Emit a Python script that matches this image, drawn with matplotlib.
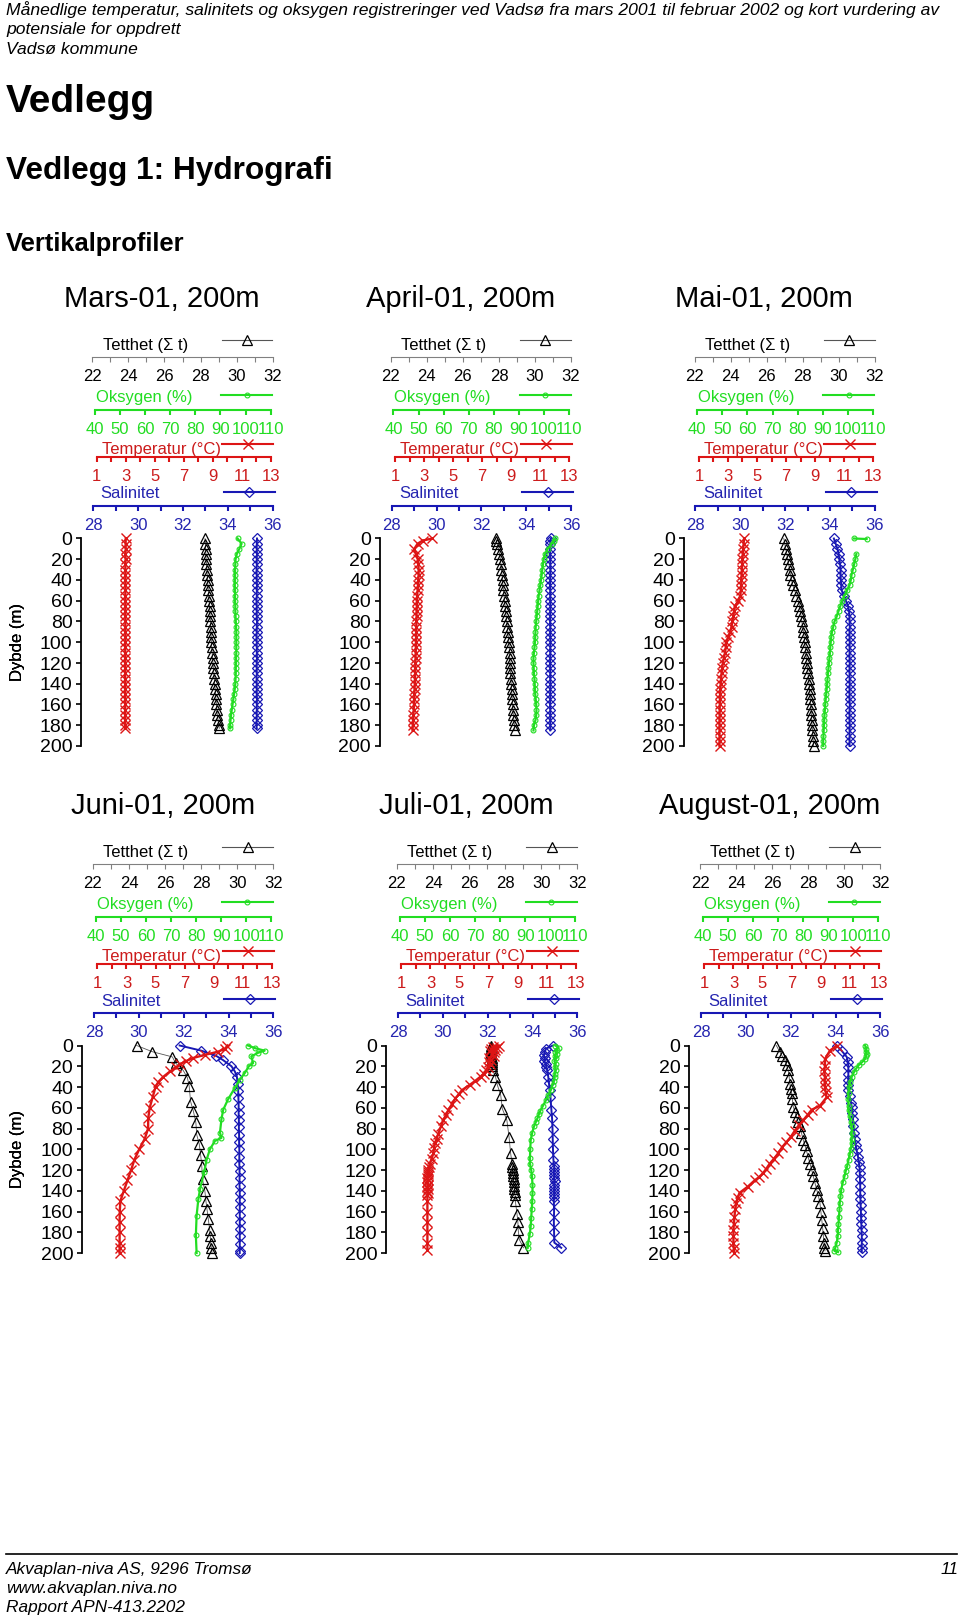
import numpy as np
import matplotlib
matplotlib.use("Agg")
import matplotlib.pyplot as plt
from matplotlib.lines import Line2D

plt.rcParams['font.family'] = ['Liberation Sans', 'DejaVu Sans']
NARROW = ['Liberation Sans Narrow', 'Liberation Sans', 'DejaVu Sans']

nan = np.nan

# ---- Mars-01 ----
MARS_DEPTH = [0, 5, 10, 15, 20, 25, 30, 35, 40, 45, 50, 55, 60, 65, 70, 75, 80, 85, 90,
              95, 100, 105, 110, 115, 120, 125, 130, 135, 140, 145, 150, 155, 160, 165,
              170, 175, 180, 183]
MARS_TEMP = [3.00, 2.99, 3.00, 2.98, 2.99, 2.98, 2.97, 2.98, 2.97, 2.98,
             2.98, 2.97, 2.97, 2.98, 2.97, 2.97, 2.98, 2.97, 2.97, 2.98,
             2.97, 2.96, 2.97, 2.97, 2.96, 2.97, 2.96, 2.96, 2.97, 2.96,
             2.96, 2.96, 2.97, 2.96, 2.96, 2.96, 2.96, 2.96]
MARS_DENS = [28.25, 28.27, 28.28, 28.30, 28.31, 28.33, 28.35, 28.37, 28.39, 28.41,
             28.43, 28.45, 28.47, 28.50, 28.52, 28.53, 28.55, 28.56, 28.58, 28.59,
             28.60, 28.62, 28.64, 28.67, 28.69, 28.71, 28.74, 28.76, 28.78, 28.81,
             28.83, 28.86, 28.88, 28.90, 28.93, 28.97, 29.02, 29.04]
MARS_OXY = [96.8, 98.4, 97.5, 96.5, 96.0, 95.9, 95.8, 95.8, 95.8, 95.7,
            95.8, 95.8, 95.8, 95.9, 95.9, 96.0, 96.1, 96.2, 96.3, 96.3,
            96.3, 96.3, 96.3, 96.2, 96.2, 96.1, 96.1, 96.0, 95.9, 95.7,
            95.4, 95.1, 94.8, 94.5, 94.2, 94.0, 93.8, 93.8]
MARS_SAL = [35.30, 35.29, 35.29, 35.30, 35.29, 35.29, 35.28, 35.29, 35.29, 35.30,
            35.29, 35.29, 35.28, 35.29, 35.29, 35.29, 35.30, 35.29, 35.29, 35.28,
            35.29, 35.29, 35.29, 35.30, 35.29, 35.29, 35.29, 35.28, 35.29, 35.29,
            35.29, 35.30, 35.29, 35.29, 35.29, 35.29, 35.28, 35.29]

# ---- April-01 ----
APR_DEPTH = [0, 2, 5, 10, 15, 20, 25, 30, 35, 40, 45, 50, 55, 60, 65, 70, 75, 80, 85,
             90, 95, 100, 105, 110, 115, 120, 125, 130, 135, 140, 145, 150, 155, 160,
             165, 170, 175, 180, 185]
APR_TEMP = [3.55, 2.90, 2.55, 2.32, 2.45, 2.56, 2.60, 2.62, 2.62, 2.60,
            2.58, 2.55, 2.52, 2.50, 2.50, 2.48, 2.48, 2.47, 2.46, 2.45,
            2.45, 2.44, 2.43, 2.42, 2.41, 2.40, 2.39, 2.38, 2.37, 2.36,
            2.34, 2.33, 2.31, 2.30, 2.28, 2.26, 2.24, 2.22, 2.20]
APR_DENS = [27.81, 27.85, 27.90, 27.97, 28.03, 28.08, 28.11, 28.14, 28.17, 28.20,
            28.22, 28.25, 28.28, 28.31, 28.34, 28.37, 28.40, 28.43, 28.46, 28.49,
            28.52, 28.55, 28.57, 28.59, 28.60, 28.62, 28.63, 28.64, 28.66, 28.68,
            28.70, 28.72, 28.74, 28.76, 28.77, 28.80, 28.83, 28.86, 28.88]
APR_OXY = [104.5, 104.0, 103.1, 101.5, 100.4, 99.9, 99.6, 99.3, 99.1, 98.8,
           98.5, 98.2, 97.9, 97.7, 97.5, 97.3, 97.1, 96.9, 96.7, 96.6,
           96.5, 96.4, 96.2, 96.0, 95.8, 95.8, 95.9, 96.0, 96.2, 96.3,
           96.4, 96.5, 96.7, 96.9, 97.0, 96.9, 96.6, 96.0, 95.8]
APR_SAL = [35.10, 35.08, 35.07, 35.07, 35.06, 35.07, 35.07, 35.08, 35.07, 35.07,
           35.06, 35.07, 35.07, 35.07, 35.08, 35.07, 35.07, 35.06, 35.07, 35.07,
           35.07, 35.08, 35.07, 35.07, 35.07, 35.06, 35.07, 35.07, 35.07, 35.08,
           35.07, 35.07, 35.07, 35.06, 35.07, 35.07, 35.07, 35.07, 35.07]

# ---- Mai-01 ----
MAI_DEPTH = [0, 5, 10, 15, 20, 25, 30, 35, 40, 45, 50, 55, 60, 65, 70, 75, 80, 85, 90,
             95, 100, 105, 110, 115, 120, 125, 130, 135, 140, 145, 150, 155, 160, 165,
             170, 175, 180, 185, 190, 195, 200]
MAI_TEMP = [4.11, 4.08, 4.05, 4.02, 4.00, 3.98, 3.96, 3.94, 3.93, 3.91,
            3.89, 3.85, 3.70, 3.50, 3.42, 3.37, 3.30, 3.25, 3.15, 3.02,
            2.90, 2.85, 2.80, 2.72, 2.65, 2.60, 2.56, 2.53, 2.50, 2.48,
            2.46, 2.45, 2.44, 2.43, 2.43, 2.42, 2.42, 2.42, 2.42, 2.42, 2.42]
MAI_DENS = [26.95, 27.00, 27.06, 27.12, 27.17, 27.22, 27.27, 27.32, 27.38, 27.45,
            27.55, 27.65, 27.76, 27.82, 27.87, 27.91, 27.95, 27.99, 28.04, 28.08,
            28.11, 28.14, 28.17, 28.20, 28.23, 28.26, 28.29, 28.32, 28.35, 28.38,
            28.40, 28.42, 28.44, 28.46, 28.48, 28.50, 28.52, 28.54, 28.56, 28.58, 28.60]
MAI_OXY_DEPTH = [0, 0.5, 10, 15, 20, 25, 30, 35, 40, 45, 50, 55, 60, 65, 70, 75, 80, 85,
                 90, 95, 100, 105, 110, 115, 120, 125, 130, 135, 140, 145, 150, 155,
                 160, 165, 170, 175, 180, 185, 190, 195, 200]
MAI_OXY = [102.5, 107.5, nan, 103.4, 103.0, 102.5, 102.0, 101.5, 101.2, 100.7,
           99.7, 98.7, 97.8, 97.0, 96.3, 95.6, 94.7, 94.2, 93.7, 93.4,
           93.2, 93.0, 92.9, 92.7, 92.5, 92.3, 92.1, 91.9, 91.8, 91.6,
           91.4, 91.2, 91.0, 90.9, 90.7, 90.6, 90.5, 90.4, 90.3, 90.2, 90.2]
MAI_SAL = [34.17, 34.25, 34.33, 34.38, 34.42, 34.45, 34.47, 34.47, 34.48, 34.50,
           34.52, 34.60, 34.70, 34.80, 34.85, 34.87, 34.87, 34.88, 34.87, 34.87,
           34.88, 34.87, 34.87, 34.87, 34.88, 34.87, 34.87, 34.87, 34.88, 34.87,
           34.87, 34.87, 34.88, 34.87, 34.87, 34.87, 34.88, 34.87, 34.87, 34.87, 34.87]

# ---- Juni-01 ----
JUN_TEMP_DEPTH = [0, 3, 6, 9, 12, 15, 18, 21, 25, 30, 35, 40, 50, 60, 70, 80, 90, 100,
                  110, 120, 130, 140, 150, 160, 170, 180, 190, 195, 200]
JUN_TEMP = [9.95, 9.80, 9.30, 8.40, 7.60, 7.10, 6.70, 6.40, 6.00, 5.55,
            5.20, 5.00, 4.80, 4.60, 4.50, 4.49, 4.26, 3.88, 3.55, 3.32,
            3.07, 2.82, 2.58, 2.54, 2.53, 2.53, 2.53, 2.53, 2.53]
JUN_DENS_DEPTH = [0, 6, 11, 17, 24, 31, 39, 54, 63, 74, 86, 95, 106, 116, 129, 140, 150,
                  158, 167, 178, 184, 190, 195, 200]
JUN_DENS = [24.42, 25.29, 26.40, 26.58, 27.00, 27.23, 27.33, 27.41, 27.56, 27.70,
            27.75, 27.89, 27.97, 28.03, 28.07, 28.20, 28.26, 28.32, 28.39, 28.47,
            28.50, 28.52, 28.56, 28.60]
JUN_OXY_DEPTH = [0, 2.5, 5, 7, 10.5, 17, 20, 26.5, 33, 41, 52, 62, 71, 84, 89, 92, 100,
                 110, 122, 138, 148, 164, 183, 200]
JUN_OXY = [100.7, 103.4, 107.3, 104.7, 102.0, 102.7, 101.0, 99.4, 97.4, 95.4,
           92.7, 90.8, 90.1, 89.5, 90.1, 87.5, 85.5, 84.2, 83.2, 81.6,
           80.9, 80.2, 79.9, 80.2]
JUN_SAL_DEPTH = [0, 5, 10, 14, 20, 25, 30, 37, 44, 51, 58, 65, 72, 79, 86, 93, 100, 107,
                 114, 121, 128, 135, 142, 149, 156, 163, 170, 177, 184, 191, 198, 200]
JUN_SAL = [31.82, 32.79, 33.45, 33.75, 34.13, 34.28, 34.37, 34.41, 34.43, 34.44,
           34.45, 34.45, 34.46, 34.46, 34.47, 34.47, 34.48, 34.48, 34.48, 34.49,
           34.49, 34.49, 34.50, 34.50, 34.50, 34.50, 34.50, 34.50, 34.50, 34.50,
           34.50, 34.50]

# ---- Juli-01 ----
JUL_TEMP_DEPTH = [0, 1, 2, 3, 4, 5, 6, 8, 10, 12, 14, 16, 18, 21, 24, 27, 30, 34, 38, 43,
                  47, 51, 56, 62, 67, 72, 78, 85, 90, 94, 99, 104, 109, 114, 117, 120,
                  122, 124, 126, 128, 130, 132, 134, 136, 138, 140, 142, 144, 150, 160,
                  170, 180, 190, 197]
JUL_TEMP = [7.70, 7.30, 7.55, 7.20, 7.45, 7.10, 7.40, 7.25, 7.35, 7.05,
            7.20, 7.00, 7.10, 6.95, 6.85, 6.68, 6.45, 6.09, 5.70, 5.17,
            4.95, 4.71, 4.50, 4.24, 4.06, 3.89, 3.72, 3.54, 3.42, 3.31,
            3.25, 3.20, 3.08, 2.96, 2.90, 2.85, 2.82, 2.80, 2.82, 2.79,
            2.80, 2.78, 2.80, 2.79, 2.80, 2.78, 2.80, 2.79, 2.79, 2.79,
            2.79, 2.79, 2.79, 2.79]
JUL_DENS_DEPTH = [0, 2, 4, 6, 8, 10, 12, 14, 16, 18, 20, 24, 30, 38, 48, 61, 72, 88, 104,
                  114, 117, 120, 123, 126, 129, 132, 135, 138, 141, 144, 150, 162, 170,
                  178, 187, 195]
JUL_DENS = [27.19, 27.20, 27.20, 27.22, 27.22, 27.23, 27.24, 27.25, 27.26, 27.27,
            27.28, 27.30, 27.46, 27.56, 27.75, 27.84, 28.09, 28.21, 28.30, 28.38,
            28.40, 28.42, 28.44, 28.45, 28.46, 28.48, 28.50, 28.51, 28.53, 28.55,
            28.56, 28.65, 28.70, 28.72, 28.78, 29.01]
JUL_OXY_DEPTH = [0, 2, 4, 6, 8, 10, 12, 15, 18, 21, 24, 27, 30, 34, 38, 43, 48, 53, 58,
                 63, 66, 70, 74, 78, 84, 91, 100, 108, 114, 120, 126, 134, 142, 150, 158,
                 166, 174, 182, 190, 195]
JUL_OXY = [102.0, 103.3, 102.8, 102.0, 102.5, 101.8, 102.3, 101.6, 102.1, 101.9,
           102.2, 101.8, 101.7, 101.5, 100.9, 100.2, 99.2, 98.2, 97.1, 96.0,
           95.5, 94.9, 94.2, 93.5, 92.8, 92.2, 92.0, 91.9, 91.9, 92.4,
           92.7, 92.9, 92.9, 92.8, 92.6, 92.4, 92.2, 91.8, 91.2, 91.0]
JUL_SAL_DEPTH = [0, 3, 6, 9, 12, 15, 18, 21, 24, 30, 36, 43, 50, 62, 70, 80, 90, 100,
                 110, 116, 119, 122, 125, 128, 131, 134, 137, 140, 143, 146, 150, 160,
                 170, 180, 190, 195]
JUL_SAL = [34.91, 34.60, 34.55, 34.50, 34.55, 34.52, 34.60, 34.62, 34.65,
           34.70, 34.73, 34.76, 34.80, 34.84, 34.87, 34.89, 34.90, 34.91, 34.93,
           34.96, 34.97, 34.95, 34.97, 34.96, 34.98, 34.96, 34.97, 34.96, 34.97, 34.96,
           34.95, 34.96, 34.95, 34.96, 34.97, 35.28]

# ---- August-01 ----
AUG_TEMP_DEPTH = [0, 5, 13, 20, 25, 30, 35, 40, 45, 50, 58, 62, 67, 72, 77, 82, 88, 93,
                  98, 104, 109, 114, 119, 123, 127, 130, 136, 142, 147, 152, 158, 165,
                  172, 178, 184, 190, 195, 200]
AUG_TEMP = [10.10, 9.64, 9.30, 9.30, 9.25, 9.30, 9.28, 9.30, 9.35, 9.41,
            8.96, 8.38, 8.10, 7.80, 7.50, 7.23, 6.95, 6.65, 6.35, 6.07,
            5.80, 5.49, 5.25, 5.04, 4.75, 4.46, 3.99, 3.42, 3.28, 3.19,
            3.12, 3.07, 3.03, 3.00, 3.00, 3.00, 3.02, 3.05]
AUG_DENS_DEPTH = [0, 6, 10, 14, 19, 24, 30, 37, 42, 46, 52, 59, 64, 69, 74, 78, 84, 91,
                  96, 102, 108, 114, 120, 126, 133, 139, 145, 152, 160, 168, 176, 184,
                  190, 195, 198]
AUG_DENS = [26.23, 26.42, 26.55, 26.70, 26.80, 26.89, 26.94, 26.98, 27.03, 27.08,
            27.12, 27.17, 27.26, 27.35, 27.45, 27.54, 27.62, 27.72, 27.82, 27.91,
            28.00, 28.10, 28.19, 28.28, 28.38, 28.47, 28.56, 28.65, 28.70, 28.75,
            28.80, 28.84, 28.87, 28.90, 28.93]
AUG_OXY_DEPTH = [0, 3, 6, 8, 10, 13, 16, 19, 22, 26, 30, 35, 40, 46, 52, 58, 62, 68, 74,
                 78, 84, 90, 94, 100, 105, 110, 116, 121, 126, 132, 139, 145, 152, 158,
                 165, 172, 178, 184, 190, 195, 198, 199]
AUG_OXY = [104.7, 105.2, 105.0, 105.4, 105.0, 104.7, 103.5, 102.1, 101.2, 100.2,
           99.4, 98.8, 98.4, 98.1, 98.0, 98.1, 98.1, 98.5, 99.0, 99.4,
           99.4, 99.4, 99.4, 99.0, 98.6, 98.1, 97.6, 97.0, 96.5, 95.8,
           95.2, 94.9, 94.6, 94.5, 94.3, 94.1, 93.9, 93.8, 93.4, 92.8, 92.5, 93.9]
AUG_SAL_DEPTH = [0, 5, 11, 16, 21, 27, 33, 38, 43, 49, 55, 59, 65, 71, 78, 84, 90, 96,
                 101, 107, 112, 117, 123, 129, 135, 142, 148, 154, 160, 166, 172, 178,
                 184, 190, 195, 199]
AUG_SAL = [34.05, 34.27, 34.50, 34.55, 34.57, 34.57, 34.57, 34.57, 34.57, 34.63,
           34.69, 34.72, 34.75, 34.78, 34.80, 34.83, 34.86, 34.90, 34.94, 35.00,
           35.04, 35.07, 35.08, 35.09, 35.10, 35.10, 35.11, 35.12, 35.13, 35.14,
           35.15, 35.16, 35.17, 35.17, 35.17, 35.17]

TITLES = ["Mars-01, 200m", "April-01, 200m", "Mai-01, 200m",
          "Juni-01, 200m", "Juli-01, 200m", "August-01, 200m"]

PANELS = [
    dict(dens=(MARS_DEPTH, MARS_DENS), sal=(MARS_DEPTH, MARS_SAL),
         oxy=(MARS_DEPTH, MARS_OXY), temp=(MARS_DEPTH, MARS_TEMP)),
    dict(dens=(APR_DEPTH, APR_DENS), sal=(APR_DEPTH, APR_SAL),
         oxy=(APR_DEPTH, APR_OXY), temp=(APR_DEPTH, APR_TEMP)),
    dict(dens=(MAI_DEPTH, MAI_DENS), sal=(MAI_DEPTH, MAI_SAL),
         oxy=(MAI_OXY_DEPTH, MAI_OXY), temp=(MAI_DEPTH, MAI_TEMP)),
    dict(dens=(JUN_DENS_DEPTH, JUN_DENS), sal=(JUN_SAL_DEPTH, JUN_SAL),
         oxy=(JUN_OXY_DEPTH, JUN_OXY), temp=(JUN_TEMP_DEPTH, JUN_TEMP)),
    dict(dens=(JUL_DENS_DEPTH, JUL_DENS), sal=(JUL_SAL_DEPTH, JUL_SAL),
         oxy=(JUL_OXY_DEPTH, JUL_OXY), temp=(JUL_TEMP_DEPTH, JUL_TEMP)),
    dict(dens=(AUG_DENS_DEPTH, AUG_DENS), sal=(AUG_SAL_DEPTH, AUG_SAL),
         oxy=(AUG_OXY_DEPTH, AUG_OXY), temp=(AUG_TEMP_DEPTH, AUG_TEMP)),
]

# ---- page geometry (pixels) ----
W, H = 960, 1617
X28 = [[93.3, 391.7, 695.5], [94.0, 398.0, 701.0]]   # pixel of salinity 28 tick
ROW_SHIFT = 507
DEPTH0_Y = 538.5
PX_PER_M = 207.5 / 200

RED, GREEN, BLUE, GREY = '#dd1515', '#22dd22', '#1818b4', '#808080'

SCALES = {
    'dens': dict(lo=22, hi=32, plo=-1.0, phi=179.4, y=357,
                 major=[22, 24, 26, 28, 30, 32], minor=[23, 25, 27, 29, 31],
                 tc='black', ac=GREY, alw=0.8, label='Tetthet (\u03a3 t)', ldx=9.4, lup=11.5,
                 kdx=153.7, kup=16,
                 style=dict(color='#555555', lw=0.6, marker='^', ms=6.5, mfc='none',
                            mec='black', mew=0.9)),
    'oxy': dict(lo=40, hi=110, plo=1.7, phi=177.4, y=410,
                major=[40, 50, 60, 70, 80, 90, 100, 110], minor=[],
                tc=GREEN, ac=GREEN, alw=1.5, label='Oksygen (%)', ldx=2.7, lup=12.3,
                kdx=153.4, kup=14,
                style=dict(color=GREEN, lw=1.6, marker='o', ms=3.5, mfc='none',
                           mec=GREEN, mew=0.8)),
    'temp': dict(lo=1, hi=13, plo=3.4, phi=177.7, y=457,
                 major=[1, 3, 5, 7, 9, 11, 13], minor=[2, 4, 6, 8, 10, 12],
                 tc='#cc1b1b', ac=RED, alw=1.5, label='Temperatur (\u00b0C)', ldx=8.4, lup=7.5,
                 kdx=154.4, kup=12,
                 style=dict(color=RED, lw=1.7, marker='x', ms=7, mew=1.0)),
    'sal': dict(lo=28, hi=36, plo=0.0, phi=179.4, y=506,
                major=[28, 30, 32, 34, 36], minor=[29, 31, 33, 35],
                tc='#2525b0', ac=BLUE, alw=1.5, label='Salinitet', ldx=7.4, lup=12.0,
                kdx=155.8, kup=13,
                style=dict(color=BLUE, lw=1.4, marker='D', ms=5, mfc='none',
                           mec=BLUE, mew=0.9)),
}
ORDER = ['dens', 'sal', 'oxy', 'temp']
LEFT_PAD, RIGHT_END = 12, 195

fig = plt.figure(figsize=(W / 100, H / 100), dpi=100)


def fx(px):
    return px / W


def fy(py):
    return 1 - py / H


for i, series in enumerate(PANELS):
    row, col = divmod(i, 3)
    x28 = X28[row][col]
    dy = ROW_SHIFT * row
    xl, xr = x28 - LEFT_PAD, x28 + RIGHT_END
    y0 = DEPTH0_Y + dy
    ytop, ybot = y0 - 12, y0 + 200 * PX_PER_M + 12

    ax = fig.add_axes([fx(xl), fy(ybot), (xr - xl) / W, (ybot - ytop) / H])
    m = 12 / PX_PER_M
    ax.set_ylim(200 + m, -m)
    ax.set_xticks([])
    for s in ['top', 'right', 'bottom']:
        ax.spines[s].set_visible(False)
    ax.spines['left'].set_bounds(0, 200)
    ax.spines['left'].set_linewidth(1.3)
    ax.set_yticks(range(0, 201, 20))
    ax.tick_params(axis='y', length=3.8, width=1.2, labelsize=14, pad=2.5)
    ax.set_ylabel('Dybde (m)', fontsize=12)
    ax.yaxis.set_label_coords(-(xl - 25) / (xr - xl), 0.5)
    ax.patch.set_visible(False)

    fig.text(fx(x28 + 68.7), fy(299 + dy), TITLES[i], fontsize=21,
             ha='center', va='center')

    for key in ORDER:
        sc = SCALES[key]
        k = (sc['hi'] - sc['lo']) / (sc['phi'] - sc['plo'])
        xlim = (sc['lo'] - (sc['plo'] + LEFT_PAD) * k,
                sc['hi'] + (RIGHT_END - sc['phi']) * k)

        vax = ax.twiny()
        vax.set_xlim(xlim)
        vax.axis('off')
        d, v = series[key]
        vax.plot(v, d, clip_on=False, **sc['style'])

        yline = sc['y'] + dy
        sax = fig.add_axes([fx(xl), fy(yline), (xr - xl) / W, 30 / H])
        sax.set_xlim(xlim)
        sax.set_ylim(0, 1)
        sax.patch.set_visible(False)
        for s in ['top', 'left', 'right']:
            sax.spines[s].set_visible(False)
        sax.spines['bottom'].set_bounds(sc['lo'], sc['hi'])
        sax.spines['bottom'].set_color(sc['ac'])
        sax.spines['bottom'].set_linewidth(sc['alw'])
        sax.set_yticks([])
        sax.set_xticks(sc['major'])
        sax.set_xticklabels([str(t) for t in sc['major']])
        sax.set_xticks(sc['minor'], minor=True)
        sax.tick_params(axis='x', which='both', direction='out', length=3.3,
                        width=sc['alw'], color=sc['ac'], labelcolor=sc['tc'],
                        labelsize=12, pad=5.3)

        fig.text(fx(x28 + sc['ldx']), fy(yline - sc['lup']), sc['label'],
                 fontsize=12, color=sc['tc'], ha='left', va='center')

        st = dict(sc['style'])
        st['lw'] = sc['alw'] if key != 'dens' else 0.8
        handle = Line2D([], [], **st)
        sax.legend([handle], [''], loc='center', frameon=False,
                   bbox_to_anchor=(fx(x28 + sc['kdx']), fy(yline - sc['kup'])),
                   bbox_transform=fig.transFigure, handlelength=51 / 13.89,
                   handletextpad=0, borderpad=0, borderaxespad=0, fontsize=10,
                   numpoints=1)

# ---- page text ----
fig.text(fx(6), fy(9.5), 'Månedlige temperatur, salinitets og oksygen registreringer ved '
         'Vadsø fra mars 2001 til februar 2002 og kort vurdering av',
         family=NARROW, style='italic', fontsize=12.6, va='center')
fig.text(fx(6), fy(29.5), 'potensiale for oppdrett', family=NARROW, style='italic',
         fontsize=12.6, va='center')
fig.text(fx(6), fy(49), 'Vadsø kommune', family=NARROW, style='italic',
         fontsize=12.6, va='center')
fig.text(fx(6), fy(102), 'Vedlegg', family=NARROW, weight='bold', fontsize=28,
         va='center')
fig.text(fx(6), fy(171), 'Vedlegg 1: Hydrografi', family=NARROW, weight='bold',
         fontsize=22.8, va='center')
fig.text(fx(6), fy(244), 'Vertikalprofiler', family=NARROW, weight='bold',
         fontsize=18.4, va='center')

fig.add_artist(Line2D([fx(6), fx(957)], [fy(1554), fy(1554)],
                      transform=fig.transFigure, color='black', lw=1.2))
for txt, yy in [('Akvaplan-niva AS, 9296 Tromsø', 1569),
                ('www.akvaplan.niva.no', 1588.5),
                ('Rapport APN-413.2202', 1607)]:
    fig.text(fx(6), fy(yy), txt, family=NARROW, style='italic', fontsize=12.4,
             va='center')
fig.text(fx(959), fy(1569), '11', family=NARROW, style='italic', fontsize=12.4,
         va='center', ha='right')

fig.savefig('out.png', dpi=100)
